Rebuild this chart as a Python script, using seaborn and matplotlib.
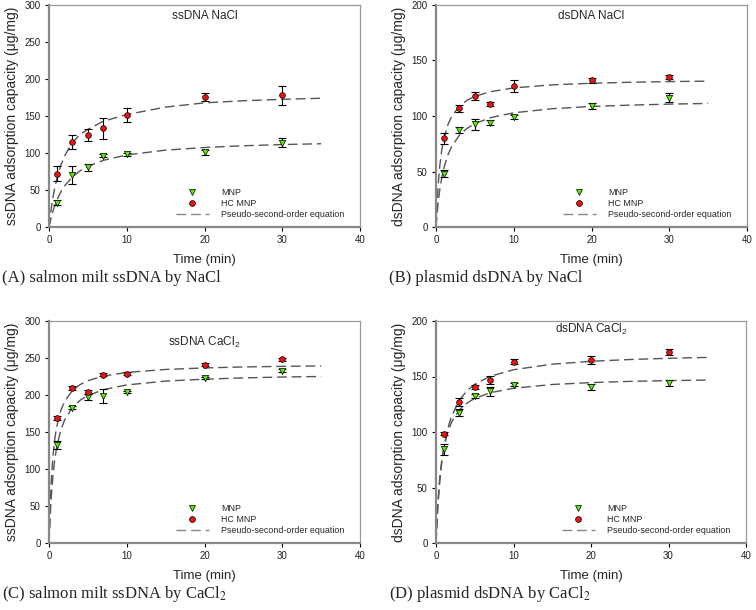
import numpy as np
import pandas as pd
import matplotlib.pyplot as plt
import seaborn as sns
from matplotlib.lines import Line2D

# sampling times of the experiments
t_obs = [1, 3, 5, 7, 10, 20, 30]

# (A) ssDNA NaCl
a_mnp = [33, 70, 80.5, 96, 98.5, 101, 114]
a_mnp_err = [3, 12.5, 4.5, 2, 2, 3.5, 6]
a_hc = [72, 115, 124, 133.5, 151.5, 176, 178]
a_hc_err = [10, 9, 8, 14, 9, 5.5, 12.5]
# (B) dsDNA NaCl
b_mnp = [48, 87.5, 92.4, 94, 99, 109, 116.6]
b_mnp_err = [3.3, 3, 4.8, 2, 1.5, 3, 4]
b_hc = [80, 107, 118.4, 111, 127, 132, 135]
b_hc_err = [5, 3.3, 3.6, 2, 5.5, 2.5, 1.5]
# (C) ssDNA CaCl2
c_mnp = [132.5, 183, 197.6, 199, 204, 223, 232.6]
c_mnp_err = [5, 2, 4, 9.5, 1.5, 2, 2]
c_hc = [169, 209.7, 204, 227.7, 229, 241, 248]
c_hc_err = [3, 3, 3, 1.5, 2, 2, 2]
# (D) dsDNA CaCl2
d_mnp = [84.6, 117.5, 132.5, 136.7, 142.7, 140.6, 144]
d_mnp_err = [5, 3, 2, 4, 1.5, 3, 2.5]
d_hc = [98.6, 127, 140.3, 147, 163.4, 165.2, 172]
d_hc_err = [1.5, 3.5, 2, 3.5, 2, 3.5, 2.5]

# fitted pseudo-second-order curves
t_fit = [0, 0.25, 0.5, 0.75, 1, 1.5, 2, 3, 4, 5, 7, 10, 15, 20, 25, 30, 35]
a_mnp_fit = [0, 11.5, 21.2, 29.2, 36.1, 47, 55.5, 67.6, 75.9, 81.9, 90.1, 97.4, 103.9, 107.4, 109.8, 111.4, 112.5]
a_hc_fit = [0, 22, 39.5, 53.5, 65, 82.7, 95.9, 114, 125, 132, 143, 152, 162, 167.8, 170.6, 172.5, 174]
b_mnp_fit = [0, 20.2, 34.3, 44.8, 52.8, 64.4, 72.4, 82.6, 88.9, 93.1, 98.5, 102.9, 106.6, 108.6, 109.8, 110.7, 111.3]
b_hc_fit = [0, 35.5, 56.1, 69.6, 79.1, 91.6, 99.5, 108.8, 114.2, 117.7, 121.9, 125.3, 128.1, 129.5, 130.4, 131, 131.4]
c_mnp_fit = [0, 56.4, 90.6, 113.5, 130, 152, 166.1, 183, 192.9, 199.3, 207.2, 213.6, 218.8, 221.4, 223.1, 224.3, 225]
c_hc_fit = [0, 76.8, 116.8, 141.2, 157.7, 178.6, 191.3, 205.9, 214.1, 219.3, 225.6, 230.5, 234.5, 236.6, 237.9, 238.7, 239.3]
d_mnp_fit = [0, 37.2, 59.6, 74.6, 85.3, 99.7, 108.8, 119.8, 126.1, 130.3, 135.4, 139.4, 142.8, 144.5, 145.6, 146.3, 146.8]
d_hc_fit = [0, 34, 56.8, 73.1, 85.3, 102.6, 114.1, 128.5, 137.2, 143, 150.2, 156.1, 161.1, 163.7, 165.3, 166.4, 167.2]

panels = [
    ("ssDNA NaCl", "ssDNA", 300, a_mnp, a_mnp_err, a_hc, a_hc_err, a_mnp_fit, a_hc_fit,
     "(A) salmon milt ssDNA by NaCl"),
    ("dsDNA NaCl", "dsDNA", 200, b_mnp, b_mnp_err, b_hc, b_hc_err, b_mnp_fit, b_hc_fit,
     "(B) plasmid dsDNA by NaCl"),
    ("ssDNA CaCl$_2$", "ssDNA", 300, c_mnp, c_mnp_err, c_hc, c_hc_err, c_mnp_fit, c_hc_fit,
     "(C) salmon milt ssDNA by CaCl$_2$"),
    ("dsDNA CaCl$_2$", "dsDNA", 200, d_mnp, d_mnp_err, d_hc, d_hc_err, d_mnp_fit, d_hc_fit,
     "(D) plasmid dsDNA by CaCl$_2$"),
]
title_y = [0.95, 0.95, 0.905, 0.96]

sns.set_theme(style="white")
plt.rcParams['font.family'] = ['Liberation Sans', 'DejaVu Sans']
plt.rcParams['mathtext.fontset'] = 'custom'
plt.rcParams['mathtext.rm'] = 'Liberation Sans'

fig = plt.figure(figsize=(7.56, 6.10), dpi=100)
W, H = 756, 610
boxes = [(49, 5, 360, 227), (436, 5, 747, 227), (49, 321, 360, 543), (436, 321, 746, 543)]

green = "#55ee00"
red = "#ee1111"
dash_col = "#555555"

for i, (title, kind, ymax, mnp, mnp_err, hc, hc_err, mnp_fit, hc_fit, caption) in enumerate(panels):
    x0, y0, x1, y1 = boxes[i]
    ax = fig.add_axes([x0 / W, 1 - y1 / H, (x1 - x0) / W, (y1 - y0) / H])

    fit = pd.DataFrame({"t": t_fit * 2, "q": mnp_fit + hc_fit,
                        "s": ["MNP"] * len(t_fit) + ["HC"] * len(t_fit)})
    sns.lineplot(data=fit, x="t", y="q", units="s", estimator=None, ax=ax,
                 color=dash_col, lw=1.0, legend=False)
    for ln in ax.lines:
        ln.set_dashes([7, 3.5])

    ax.errorbar(t_obs, mnp, yerr=mnp_err, fmt="none", ecolor="black",
                elinewidth=0.8, capsize=2.6, capthick=0.8, zorder=3)
    ax.errorbar(t_obs, hc, yerr=hc_err, fmt="none", ecolor="black",
                elinewidth=0.8, capsize=2.6, capthick=0.8, zorder=3)
    sns.scatterplot(x=t_obs, y=mnp, marker="v", color=green, edgecolor="black",
                    linewidth=0.5, s=20, ax=ax, zorder=4)
    sns.scatterplot(x=t_obs, y=hc, marker="o", color=red, edgecolor="black",
                    linewidth=0.5, s=17, ax=ax, zorder=4)

    ax.set_xlim(0, 40)
    ax.set_ylim(0, ymax)
    ax.set_xticks(np.arange(0, 41, 10))
    ax.set_yticks(np.arange(0, ymax + 1, 50))
    for side in ["left", "bottom"]:
        ax.spines[side].set_color("#888888")
        ax.spines[side].set_linewidth(1.6)
    for side in ["top", "right"]:
        ax.spines[side].set_color("#999999")
        ax.spines[side].set_linewidth(0.9)
    ax.tick_params(axis="both", which="major", direction="out", length=3, width=0.8,
                   color="black", labelsize=7, labelcolor="#222222", pad=3,
                   bottom=True, left=True)

    ax.set_xlabel("Time (min)", fontsize=9.5, labelpad=6)
    ax.set_ylabel(kind + " adsorption capacity (\u03bcg/mg)", fontsize=10, labelpad=4)
    ax.text(0.5, title_y[i], title, transform=ax.transAxes, ha="center", va="center", fontsize=8.5)

    handles = [
        Line2D([], [], ls="none", marker="v", markerfacecolor=green, markeredgecolor="black",
               markeredgewidth=0.5, markersize=4.5),
        Line2D([], [], ls="none", marker="o", markerfacecolor=red, markeredgecolor="black",
               markeredgewidth=0.5, markersize=4.2),
        Line2D([], [], color="#888888", lw=1.0, dashes=[7, 3.5]),
    ]
    ax.legend(handles, ["MNP", "HC MNP", "Pseudo-second-order equation"], loc="lower right",
              bbox_to_anchor=(0.975, 0.0), frameon=False, fontsize=6.4, handlelength=3.7,
              handletextpad=1.35, labelspacing=0.2, borderaxespad=0.5)

    fig.text((x0 - 47) / W, 1 - (y1 + 51) / H, caption, ha="left", va="center",
             fontsize=12, family=["Liberation Serif"], math_fontfamily="stix")

plt.savefig("out.png", dpi=100)
